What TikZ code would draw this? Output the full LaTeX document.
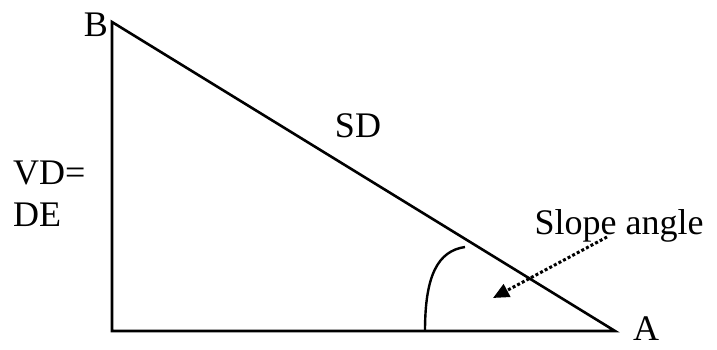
\documentclass[tikz,border=0pt]{standalone}
\usepackage{fontspec}
\setmainfont{Liberation Serif}
\usetikzlibrary{arrows.meta}
\tikzset{lbl/.style={inner sep=0pt,font=\fontsize{36}{42}\selectfont}}
\begin{document}
\begin{tikzpicture}[x=1pt,y=1pt,>={Triangle[length=16pt,width=14pt]}]
\useasboundingbox (0,0) rectangle (717,350);
\coordinate (B) at (112,328);
\coordinate (C) at (112,19);
\coordinate (A) at (615,19);
\draw[line width=2.6pt,line join=miter] (B) -- (C) -- (A) -- cycle;
\node[lbl] (labB) at (96,325) {B};
\node[lbl,anchor=base] (labA) at (646,9) {A};
\node[lbl,anchor=base] (labSD) at (358,212) {SD};
\node[lbl,anchor=base west,align=left] (labVD) at (13,123) {VD=\\DE};
\node[lbl,anchor=base] (labSlope) at (619,115) {Slope angle};
% angle mark
\coordinate (arc1) at (425,19);
\coordinate (arc2) at (465,103);
\draw[line width=2.4pt] (arc1) .. controls (425,75) and (438,99) .. (arc2);
% pointer
\coordinate (ptr1) at (607,113);
\coordinate (ptr2) at (493,52);
\draw[->,line width=3pt,dash pattern=on 3pt off 2.2pt] (ptr1) -- (ptr2);
\end{tikzpicture}
\end{document}
